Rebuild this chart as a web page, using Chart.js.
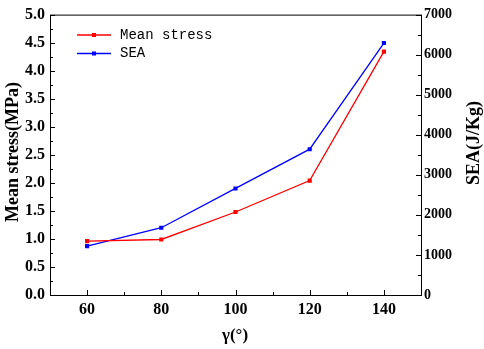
<!DOCTYPE html>
<html>
<head>
<meta charset="utf-8">
<script src="https://cdn.jsdelivr.net/npm/chart.js@4/dist/chart.umd.min.js"></script>
<style>
  html, body { margin: 0; padding: 0; background: #fff; }
  #wrap { width: 484px; height: 349px; }
</style>
</head>
<body>
<div id="wrap"><canvas id="c" width="484" height="349"></canvas></div>
<script>
// data
var angles = [60, 80, 100, 120, 140];
var meanStress = [0.96, 0.99, 1.48, 2.04, 4.34];
var sea = [1220, 1680, 2660, 3640, 6290];
var xTicks = [60, 80, 100, 120, 140];
var seriesNames = ['Mean stress', 'SEA'];
var axisTitles = ['Mean stress(MPa)', 'SEA(J/Kg)', 'γ(°)'];

var serif = '"Liberation Serif", "Times New Roman", serif';

function pts(xs, ys) {
  return xs.map(function (x, i) { return { x: x, y: ys[i] }; });
}

// inward ticks, minor ticks, axis titles, legend
var extras = {
  id: 'extras',
  afterDraw: function (chart) {
    var ctx = chart.ctx;
    var a = chart.chartArea;
    var sx = chart.scales.x, sl = chart.scales.yL, sr = chart.scales.yR;
    ctx.save();
    ctx.strokeStyle = '#000';
    ctx.lineWidth = 1;
    ctx.beginPath();
    var v, p;
    for (v = 50; v <= 150; v += 10) {
      p = Math.round(sx.getPixelForValue(v)) + 0.5;
      var len = (v % 20 === 0) ? 5 : 3;
      ctx.moveTo(p, a.bottom); ctx.lineTo(p, a.bottom - len);
    }
    for (v = 0; v <= 5.0001; v += 0.25) {
      p = Math.round(sl.getPixelForValue(v)) + 0.5;
      var l2 = (Math.round(v * 4) % 2 === 0) ? 5 : 3;
      ctx.moveTo(a.left, p); ctx.lineTo(a.left + l2, p);
    }
    for (v = 0; v <= 7000; v += 500) {
      p = Math.round(sr.getPixelForValue(v)) + 0.5;
      var l3 = (v % 1000 === 0) ? 5 : 3;
      ctx.moveTo(a.right, p); ctx.lineTo(a.right - l3, p);
    }
    ctx.stroke();

    // box
    ctx.strokeRect(a.left + 0.5, a.top + 0.5, a.right - a.left, a.bottom - a.top);

    // axis titles
    ctx.fillStyle = '#000';
    ctx.font = 'bold 18px ' + serif;
    ctx.textAlign = 'center';
    ctx.textBaseline = 'middle';
    ctx.save();
    ctx.translate(13, 152);
    ctx.rotate(-Math.PI / 2);
    ctx.fillText(axisTitles[0], 0, 0);
    ctx.restore();
    ctx.save();
    ctx.translate(474, 143);
    ctx.rotate(-Math.PI / 2);
    ctx.fillText(axisTitles[1], 0, 0);
    ctx.restore();
    ctx.font = 'bold 17px ' + serif;
    ctx.fillText(axisTitles[2], 235, 336);

    // legend
    ctx.font = '14px "Liberation Mono", "DejaVu Sans Mono", monospace';
    ctx.textAlign = 'left';
    chart.data.datasets.forEach(function (ds, i) {
      var y = 35 + i * 18.5;
      ctx.strokeStyle = ds.borderColor;
      ctx.lineWidth = 1.5;
      ctx.beginPath();
      ctx.moveTo(77, y); ctx.lineTo(111, y);
      ctx.stroke();
      ctx.fillStyle = ds.borderColor;
      ctx.fillRect(92, y - 2, 4, 4);
      ctx.fillStyle = '#000';
      ctx.fillText(ds.label, 120, y);
    });
    ctx.restore();
  }
};

new Chart(document.getElementById('c'), {
  type: 'line',
  data: {
    datasets: [
      {
        label: seriesNames[0],
        data: pts(angles, meanStress),
        yAxisID: 'yL',
        borderColor: '#ff0000',
        backgroundColor: '#ff0000',
        borderWidth: 1.3,
        pointStyle: 'rect',
        pointRadius: 2,
        tension: 0
      },
      {
        label: seriesNames[1],
        data: pts(angles, sea),
        yAxisID: 'yR',
        borderColor: '#0000ff',
        backgroundColor: '#0000ff',
        borderWidth: 1.3,
        pointStyle: 'rect',
        pointRadius: 2,
        tension: 0
      }
    ]
  },
  options: {
    responsive: false,
    animation: false,
    layout: { padding: { top: 8 } },
    plugins: { legend: { display: false }, tooltip: { enabled: false } },
    scales: {
      x: {
        type: 'linear',
        min: 50, max: 150,
        afterFit: function (s) { s.height = 54; },
        afterBuildTicks: function (s) {
          s.ticks = xTicks.map(function (t) { return { value: t }; });
        },
        grid: { display: false, drawTicks: false },
        border: { display: false },
        ticks: {
          padding: 5,
          color: '#000',
          font: { family: serif, size: 16, weight: 'bold' },
          callback: function (v) { return String(v); }
        }
      },
      yL: {
        position: 'left',
        min: 0, max: 5,
        afterFit: function (s) { s.width = 50; },
        grid: { display: false, drawTicks: false },
        border: { display: false },
        ticks: {
          stepSize: 0.5,
          padding: 5,
          color: '#000',
          font: { family: serif, size: 16, weight: 'bold' },
          callback: function (v) { return v.toFixed(1); }
        }
      },
      yR: {
        position: 'right',
        min: 0, max: 7000,
        afterFit: function (s) { s.width = 63; },
        grid: { display: false, drawTicks: false },
        border: { display: false },
        ticks: {
          stepSize: 1000,
          padding: 3,
          color: '#000',
          font: { family: serif, size: 14, weight: 'bold' },
          callback: function (v) { return String(v); }
        }
      }
    }
  },
  plugins: [extras]
});
</script>
</body>
</html>
